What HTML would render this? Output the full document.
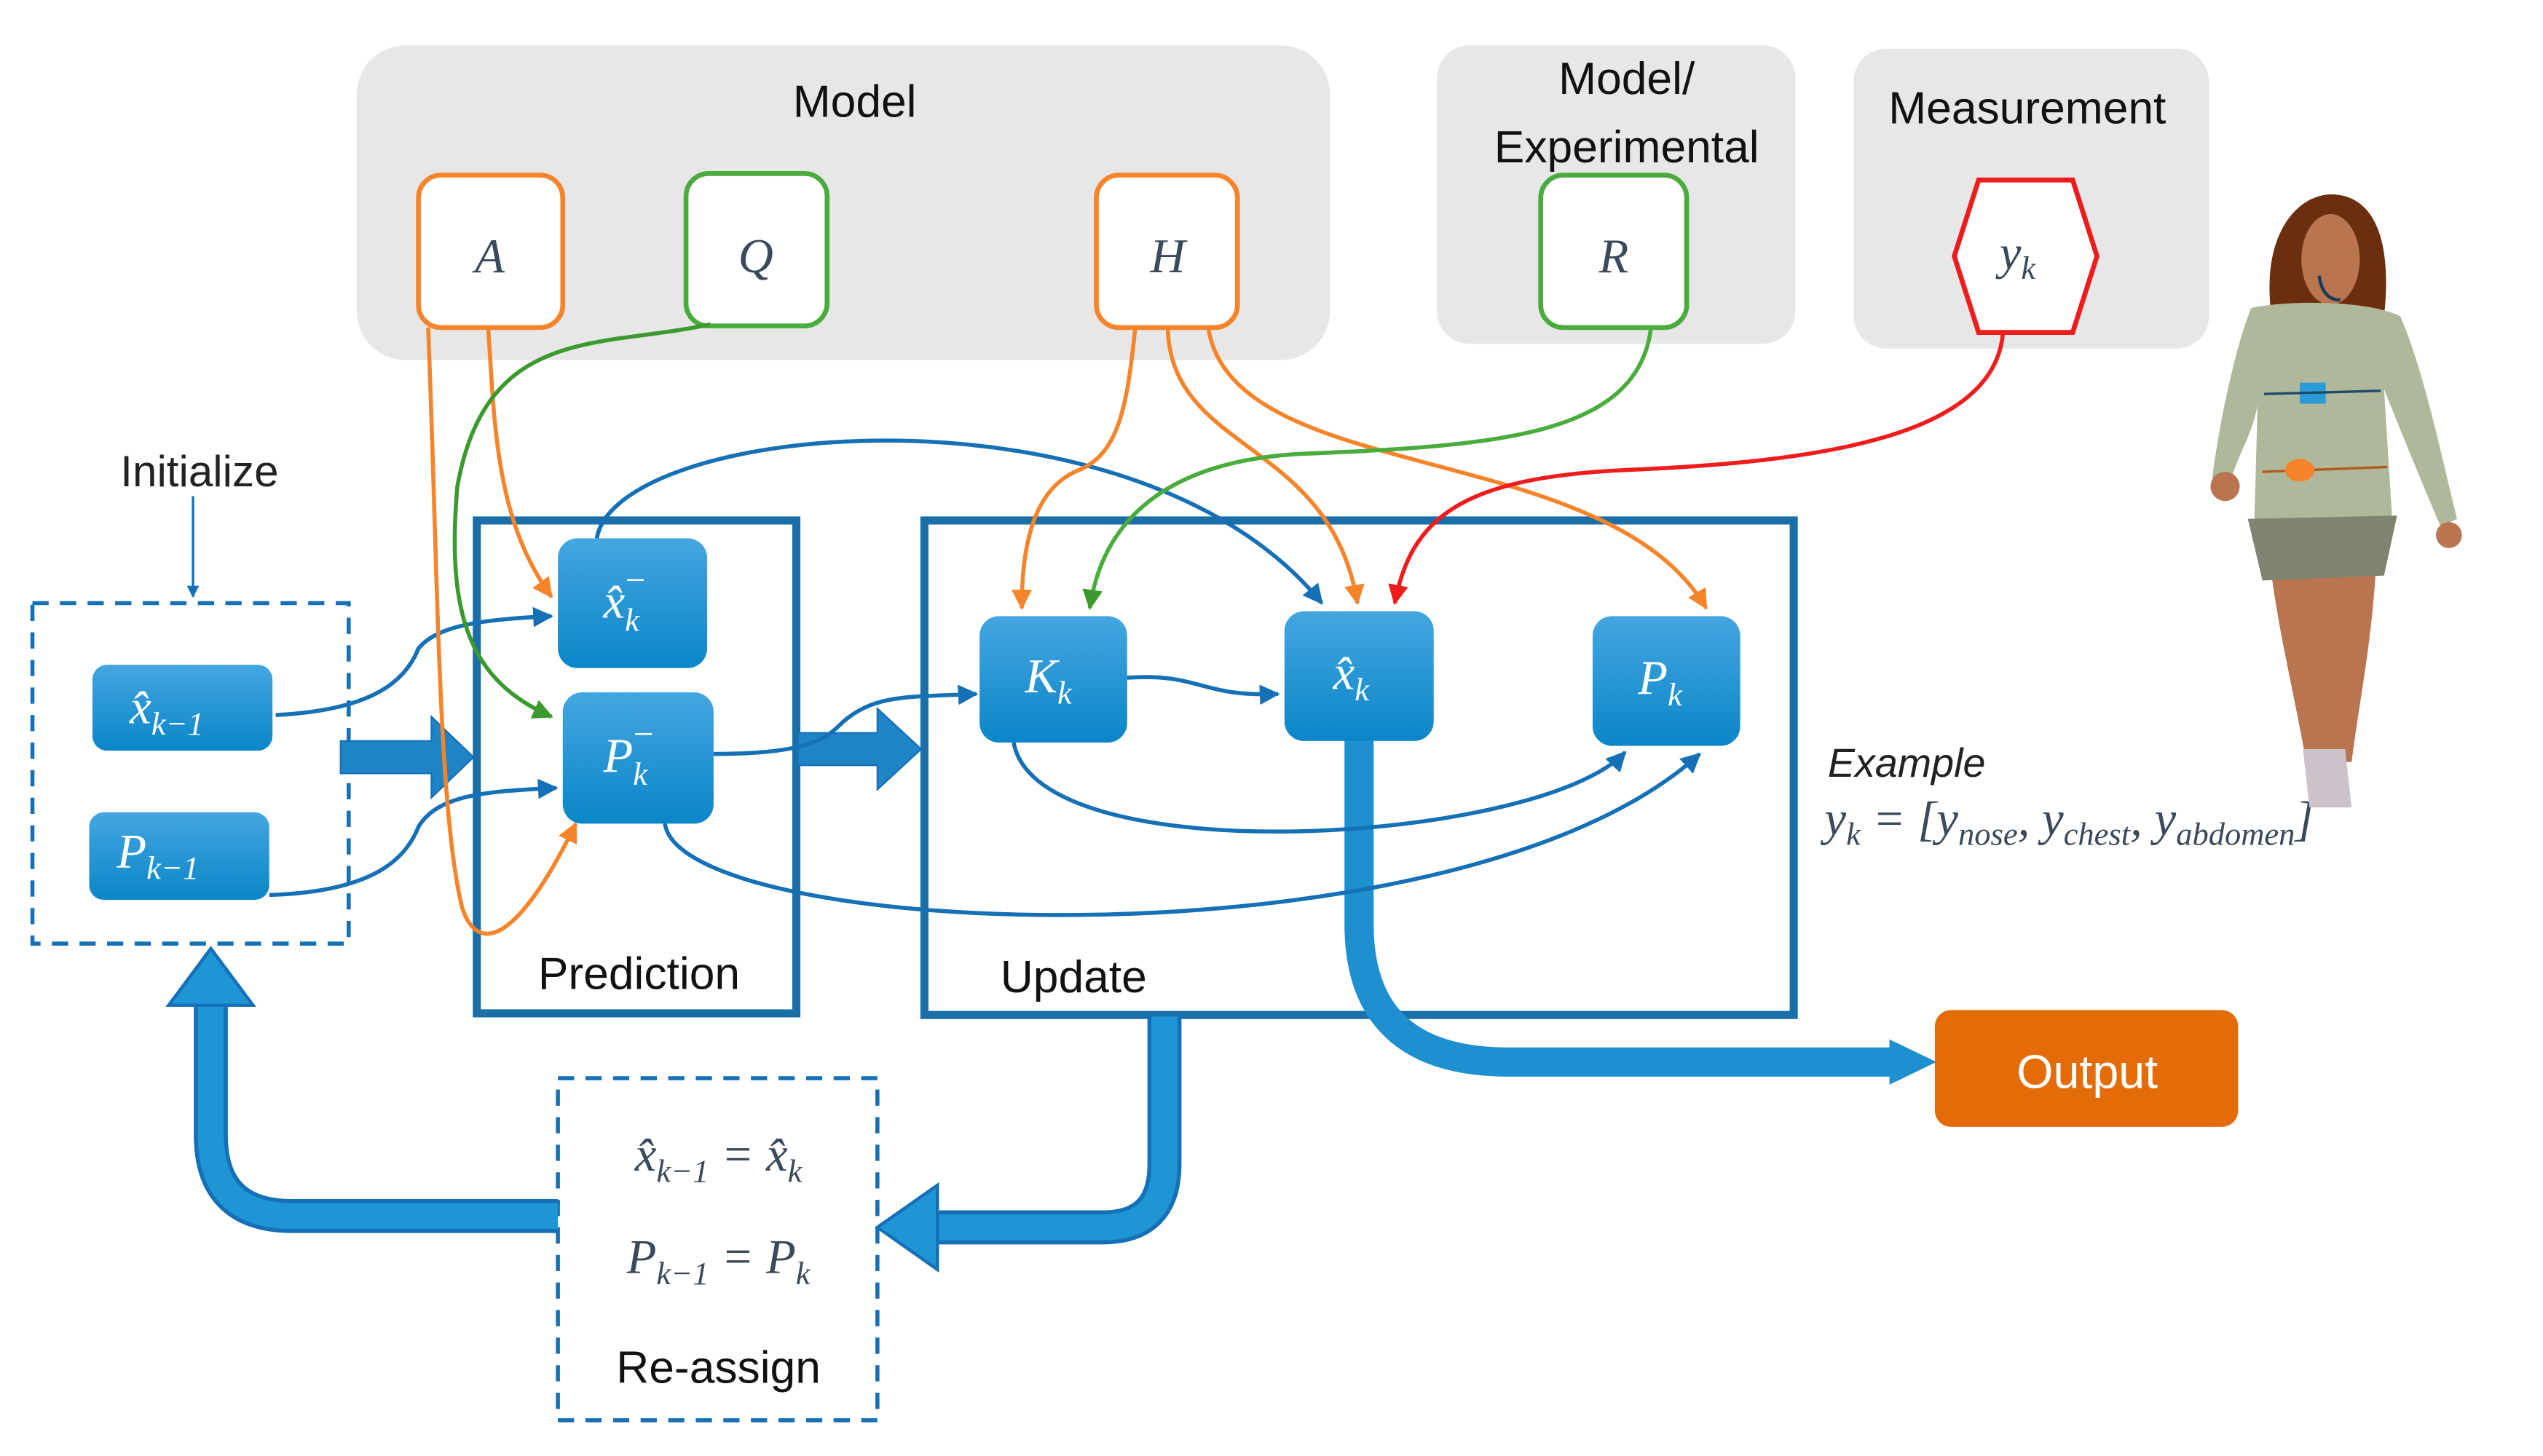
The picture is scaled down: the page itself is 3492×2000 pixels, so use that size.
<!DOCTYPE html>
<html><head><meta charset="utf-8"><style>
html,body{margin:0;padding:0;background:#fff}
svg{display:block}
text{font-family:"Liberation Sans",sans-serif}
.m{font-family:"Liberation Serif",serif;font-style:italic;fill:#fff}
.mb{font-family:"Liberation Serif",serif;font-style:italic;fill:#3a4a5a}
</style></head><body>
<svg width="3492" height="2000" viewBox="0 0 1568 898" xmlns="http://www.w3.org/2000/svg">
<defs>
<linearGradient id="bg" x1="0" y1="0" x2="0" y2="1"><stop offset="0" stop-color="#45a6e0"/><stop offset="1" stop-color="#0a86c8"/></linearGradient>
<marker id="ab" viewBox="0 0 10 10" refX="9" refY="5" markerWidth="5" markerHeight="5" orient="auto"><path d="M0,0L10,5L0,10z" fill="#1670b5"/></marker>
<marker id="ao" viewBox="0 0 10 10" refX="9" refY="5" markerWidth="5" markerHeight="5" orient="auto"><path d="M0,0L10,5L0,10z" fill="#f5842a"/></marker>
<marker id="ag" viewBox="0 0 10 10" refX="9" refY="5" markerWidth="5" markerHeight="5" orient="auto"><path d="M0,0L10,5L0,10z" fill="#3b9a2e"/></marker>
<marker id="ar" viewBox="0 0 10 10" refX="9" refY="5" markerWidth="5" markerHeight="5" orient="auto"><path d="M0,0L10,5L0,10z" fill="#ee1c1c"/></marker>
</defs>
<rect x="220" y="28" width="600" height="194" rx="30" fill="#e7e7e7"/>
<rect x="886" y="28" width="221" height="184" rx="20" fill="#e7e7e7"/>
<rect x="1143" y="30" width="219" height="185" rx="20" fill="#e7e7e7"/>
<text x="527" y="72" font-size="28" text-anchor="middle" fill="#111">Model</text>
<text x="1003" y="58" font-size="28" text-anchor="middle" fill="#111">Model/</text>
<text x="1003" y="100" font-size="28" text-anchor="middle" fill="#111">Experimental</text>
<text x="1250" y="76" font-size="28" text-anchor="middle" fill="#111">Measurement</text>
<rect x="258" y="108" width="89" height="94" rx="14" fill="#fff" stroke="#f5842a" stroke-width="3"/>
<rect x="423" y="107" width="87" height="94" rx="14" fill="#fff" stroke="#4aac3c" stroke-width="3"/>
<rect x="676" y="108" width="87" height="94" rx="14" fill="#fff" stroke="#f5842a" stroke-width="3"/>
<rect x="950" y="108" width="90" height="94" rx="14" fill="#fff" stroke="#4aac3c" stroke-width="3"/>
<polygon points="1220,111 1278,111 1293,158 1278,205 1220,205 1205,158" fill="#fff" stroke="#ee1c1c" stroke-width="3"/>
<text x="302" y="168" font-size="30" text-anchor="middle" class="mb">A</text>
<text x="466" y="168" font-size="30" text-anchor="middle" class="mb">Q</text>
<text x="720" y="168" font-size="30" text-anchor="middle" class="mb">H</text>
<text x="995" y="168" font-size="30" text-anchor="middle" class="mb">R</text>
<text x="1244" y="166" font-size="30" text-anchor="middle" class="mb">y<tspan font-size="20" dy="6">k</tspan></text>
<text x="123" y="300" font-size="27" text-anchor="middle" fill="#222">Initialize</text>
<line x1="119" y1="306" x2="119" y2="368" stroke="#1670b5" stroke-width="1.5" marker-end="url(#ab)"/>
<rect x="20" y="372" width="195" height="210" fill="none" stroke="#1670b5" stroke-width="2.5" stroke-dasharray="10,7"/>
<rect x="294" y="321" width="197" height="304" fill="none" stroke="#1a6fa8" stroke-width="5"/>
<rect x="570" y="321" width="536" height="305" fill="none" stroke="#1a6fa8" stroke-width="5"/>
<text x="394" y="610" font-size="28" text-anchor="middle" fill="#111">Prediction</text>
<text x="662" y="612" font-size="28" text-anchor="middle" fill="#111">Update</text>
<path d="M210,457 H266 V442 L292,467 L266,492 V477 H210 Z" fill="#1f84c6" stroke="#1670b5"/>
<path d="M492,452 H541 V437 L568,462 L541,487 V472 H492 Z" fill="#1f84c6" stroke="#1670b5"/>
<path d="M838,455 V570 Q838,655 930,655 H1170" fill="none" stroke="#1e90d0" stroke-width="18"/>
<path d="M1165,641 L1194,655 L1165,669 Z" fill="#1e90d0"/>
<rect x="1193" y="623" width="187" height="72" rx="10" fill="#e36c09"/>
<text x="1287" y="671" font-size="29" text-anchor="middle" fill="#fff">Output</text>
<rect x="344" y="665" width="197" height="211" fill="none" stroke="#1670b5" stroke-width="2.5" stroke-dasharray="10,7"/>
<text x="443" y="722" font-size="30" text-anchor="middle" class="mb">x̂<tspan font-size="20" dy="7">k−1</tspan><tspan dy="-7"> = x̂</tspan><tspan font-size="20" dy="7">k</tspan></text>
<text x="443" y="785" font-size="30" text-anchor="middle" class="mb">P<tspan font-size="20" dy="7">k−1</tspan><tspan dy="-7"> = P</tspan><tspan font-size="20" dy="7">k</tspan></text>
<text x="443" y="853" font-size="28" text-anchor="middle" fill="#111">Re-assign</text>
<path d="M718,627 V718 Q718,757 680,757 H575" fill="none" stroke="#1670b5" stroke-width="21"/>
<path d="M718,627 V718 Q718,757 680,757 H575" fill="none" stroke="#1e95d5" stroke-width="16"/>
<path d="M578,731 L541,757 L578,783 Z" fill="#1e95d5" stroke="#1670b5" stroke-width="2"/>
<path d="M344,750 H180 Q130,750 130,700 V615" fill="none" stroke="#1670b5" stroke-width="21"/>
<path d="M344,750 H180 Q130,750 130,700 V615" fill="none" stroke="#1e95d5" stroke-width="16"/>
<path d="M104,620 L130,585 L156,620 Z" fill="#1e95d5" stroke="#1670b5" stroke-width="2"/>
<g fill="none" stroke="#1670b5" stroke-width="2.5">
<path d="M170,441 C230,438 250,420 258,400 C270,385 300,382 340,380" marker-end="url(#ab)"/>
<path d="M166,552 C230,550 250,530 258,510 C270,490 300,488 343,486" marker-end="url(#ab)"/>
<path d="M368,332 C380,260 700,230 815,372" marker-end="url(#ab)"/>
<path d="M440,465 C500,465 510,455 520,445 C540,428 560,430 602,428" marker-end="url(#ab)"/>
<path d="M695,418 C740,415 740,430 788,428" marker-end="url(#ab)"/>
<path d="M625,458 C640,540 950,520 1002,464" marker-end="url(#ab)"/>
<path d="M410,508 C420,580 900,600 1048,465" marker-end="url(#ab)"/>
</g>
<g fill="none" stroke="#f5842a" stroke-width="2.5">
<path d="M301,202 C305,260 305,320 340,368" marker-end="url(#ao)"/>
<path d="M264,202 C270,350 270,500 285,560 C295,590 320,580 355,508" marker-end="url(#ao)"/>
<path d="M700,202 C695,250 690,280 665,290 C640,300 630,330 630,375" marker-end="url(#ao)"/>
<path d="M720,202 C722,280 820,270 837,372" marker-end="url(#ao)"/>
<path d="M745,202 C760,300 990,270 1052,375" marker-end="url(#ao)"/>
</g>
<g fill="none" stroke="#3b9a2e" stroke-width="2.5">
<path d="M438,200 C370,215 300,200 282,300 C275,380 290,420 340,442" marker-end="url(#ag)"/>
<path d="M1018,202 C1010,270 920,275 800,280 C720,285 680,320 672,375" marker-end="url(#ag)" stroke="#4aac3c"/>
</g>
<path d="M1235,205 C1230,270 1120,285 1000,290 C900,295 870,320 860,372" fill="none" stroke="#ee1c1c" stroke-width="2.5" marker-end="url(#ar)"/>
<g fill="url(#bg)">
<rect x="57" y="410" width="111" height="53" rx="9"/>
<rect x="55" y="501" width="111" height="54" rx="9"/>
<rect x="344" y="332" width="92" height="80" rx="12"/>
<rect x="347" y="427" width="93" height="81" rx="12"/>
<rect x="604" y="380" width="91" height="78" rx="12"/>
<rect x="792" y="377" width="92" height="80" rx="12"/>
<rect x="982" y="380" width="91" height="80" rx="12"/>
</g>
<text x="80" y="446" font-size="30" class="m">x̂<tspan font-size="20" dy="7">k−1</tspan></text>
<text x="72" y="535" font-size="30" class="m">P<tspan font-size="20" dy="7">k−1</tspan></text>
<text x="372" y="381" font-size="30" class="m">x̂<tspan font-size="20" dy="8">k</tspan><tspan font-size="22" dx="-10" dy="-24">−</tspan></text>
<text x="372" y="476" font-size="30" class="m">P<tspan font-size="20" dy="8">k</tspan><tspan font-size="22" dx="-10" dy="-24">−</tspan></text>
<text x="632" y="427" font-size="30" class="m">K<tspan font-size="20" dy="7">k</tspan></text>
<text x="822" y="425" font-size="30" class="m">x̂<tspan font-size="20" dy="7">k</tspan></text>
<text x="1010" y="428" font-size="30" class="m">P<tspan font-size="20" dy="7">k</tspan></text>
<text x="1127" y="479" font-size="25" font-style="italic" fill="#222">Example</text>
<text x="1125" y="515" font-size="30" class="mb">y<tspan font-size="20" dy="6">k</tspan><tspan dy="-6"> = [y</tspan><tspan font-size="20" dy="6">nose</tspan><tspan dy="-6">, y</tspan><tspan font-size="20" dy="6">chest</tspan><tspan dy="-6">, y</tspan><tspan font-size="20" dy="6">abdomen</tspan><tspan dy="-6">]</tspan></text>
<g>
<path d="M1400,190 C1395,140 1420,118 1440,120 C1465,122 1475,150 1470,195 Z" fill="#6b2e0e"/>
<ellipse cx="1437" cy="160" rx="18" ry="28" fill="#b87550"/>
<path d="M1400,350 L1465,350 C1462,400 1455,430 1450,470 L1422,470 C1415,430 1405,390 1400,350 Z" fill="#b87550"/>
<path d="M1420,462 L1446,462 L1450,498 L1424,498 Z" fill="#cbc3c9"/>
<path d="M1388,190 C1410,185 1460,185 1480,195 C1495,230 1505,280 1515,320 L1505,325 C1490,290 1478,260 1470,240 L1475,320 L1390,322 L1392,250 C1388,270 1380,280 1376,295 L1364,295 C1370,250 1380,210 1388,190 Z" fill="#afb89a"/>
<path d="M1386,320 L1478,318 L1470,355 L1395,358 Z" fill="#7f8470"/>
<circle cx="1372" cy="300" r="9" fill="#b87550"/>
<circle cx="1510" cy="330" r="8" fill="#b87550"/>
<rect x="1418" y="236" width="16" height="13" fill="#2b9ad8"/>
<line x1="1396" y1="243" x2="1468" y2="241" stroke="#1e4a6a" stroke-width="1.5"/>
<line x1="1395" y1="291" x2="1472" y2="288" stroke="#b05a20" stroke-width="1.5"/>
<ellipse cx="1418" cy="290" rx="9" ry="7" fill="#f5842a"/>
<path d="M1430,170 Q1432,185 1443,185" fill="none" stroke="#1e3a5a" stroke-width="2"/>
</g>
</svg>
</body></html>
